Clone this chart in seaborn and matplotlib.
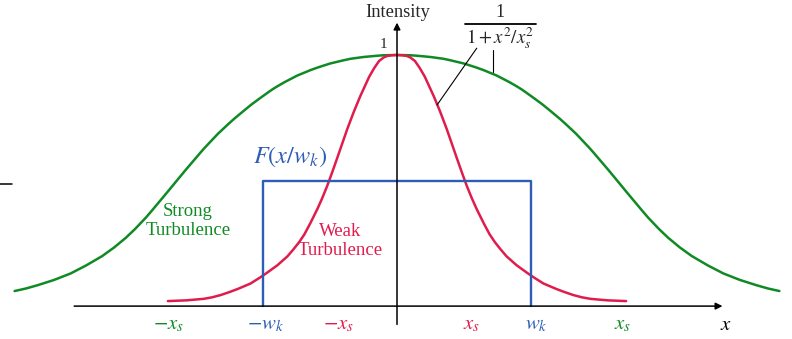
import matplotlib
matplotlib.use("Agg")
import matplotlib.pyplot as plt
import seaborn as sns
import pandas as pd

# values: both curves are symmetric, so one half is listed
# (offset from the centre in units of w_k, intensity with peak = 1)
strong_off = [0.0, 0.098, 0.150, 0.250, 0.346, 0.398, 0.500, 0.593, 0.645, 0.745,
              0.842, 0.894, 0.933, 0.965, 1.025, 1.086, 1.141, 1.213, 1.255, 1.337,
              1.429, 1.461, 1.581, 1.717, 1.833, 1.875, 1.957, 2.024, 2.110, 2.201,
              2.320, 2.436, 2.560, 2.684, 2.770, 2.854]
strong_val = [1.000, 0.999, 0.997, 0.992, 0.985, 0.979, 0.966, 0.950, 0.940, 0.918,
              0.891, 0.875, 0.862, 0.850, 0.827, 0.803, 0.779, 0.747, 0.727, 0.686,
              0.634, 0.615, 0.540, 0.452, 0.378, 0.352, 0.306, 0.272, 0.234, 0.199,
              0.162, 0.130, 0.104, 0.083, 0.070, 0.060]

weak_off = [0.0, 0.037, 0.074, 0.100, 0.134, 0.170, 0.208, 0.275, 0.323, 0.372,
            0.409, 0.446, 0.483, 0.520, 0.558, 0.595, 0.647, 0.691, 0.730, 0.773,
            0.818, 0.892, 0.967, 1.019, 1.093, 1.190, 1.250, 1.316, 1.380, 1.442,
            1.570, 1.710]
weak_val = [1.000, 0.999, 0.996, 0.990, 0.976, 0.948, 0.913, 0.835, 0.773, 0.704,
            0.647, 0.590, 0.534, 0.480, 0.430, 0.386, 0.330, 0.286, 0.255, 0.226,
            0.198, 0.163, 0.134, 0.115, 0.090, 0.068, 0.056, 0.044, 0.035, 0.029,
            0.023, 0.020]

box_x = [-1.0, -1.0, 1.0, 1.0]
box_y = [0.0, 0.5, 0.5, 0.0]

tick_labels = [r"$-x_s$", r"$-w_k$", r"$-x_s$", r"$x_s$", r"$w_k$", r"$x_s$", r"$x$"]
tick_pos = [-1.705, -0.98, -0.44, 0.557, 1.037, 1.683, 2.455]

GREEN = "#108a24"
RED = "#e01c4c"
BLUE = "#2f5db5"
tick_colors = [GREEN, BLUE, RED, RED, BLUE, GREEN, "black"]


def mirrored(off, val):
    xs = [-o for o in reversed(off[1:])] + list(off)
    ys = list(reversed(val[1:])) + list(val)
    return pd.DataFrame({'x': xs, 'y': ys})


sns.set_style("white")
plt.rcParams['font.family'] = ['Liberation Serif', 'DejaVu Serif']
plt.rcParams['mathtext.fontset'] = 'stix'

fig = plt.figure(figsize=(7.92, 3.39), dpi=100)
ax = fig.add_axes([0, 0, 1, 1])

strong = mirrored(strong_off, strong_val)
weak = mirrored(weak_off, weak_val)
box = pd.DataFrame({'x': box_x, 'y': box_y})

sns.lineplot(data=strong, x='x', y='y', sort=False, estimator=None, color=GREEN, lw=1.8, ax=ax)
sns.lineplot(data=weak, x='x', y='y', sort=False, estimator=None, color=RED, lw=1.8, ax=ax)
sns.lineplot(data=box, x='x', y='y', sort=False, estimator=None, color=BLUE, lw=1.7, ax=ax)

# axes drawn as arrows
ax.annotate('', xy=(2.45, 0), xytext=(-2.43, 0),
            arrowprops=dict(arrowstyle='-|>', color='black', lw=1.1, mutation_scale=10))
ax.annotate('', xy=(0, 1.14), xytext=(0, -0.084),
            arrowprops=dict(arrowstyle='-|>', color='black', lw=1.1, mutation_scale=10))
ax.plot([-2.963, -2.873], [0.486, 0.486], color='black', lw=1.1)

ax.text(0.007, 1.171, "Intensity", ha='center', va='center', fontsize=13.3)
ax.text(-0.10, 1.040, "1", ha='center', va='center', fontsize=11)

# formula label
ax.text(0.769, 1.171, "1", ha='center', va='center', fontsize=13)
ax.plot([0.507, 1.037], [1.122, 1.122], color='black', lw=1.3)
ax.text(0.769, 1.068, r"$1+x^2/x_s^2$", ha='center', va='center', fontsize=13.6)
ax.plot([0.595, 0.299], [1.027, 0.801], color='black', lw=0.8)
ax.plot([0.719, 0.719], [1.020, 0.933], color='black', lw=0.8)

ax.text(-0.80, 0.594, r"$F(x/w_k)$", ha='center', va='center', fontsize=17.5, color=BLUE)
ax.text(-1.56, 0.339, "Strong\nTurbulence", ha='center', va='center', fontsize=13.5,
        color=GREEN, linespacing=1.15)
ax.text(-0.425, 0.259, "Weak\nTurbulence", ha='center', va='center', fontsize=13.5,
        color=RED, linespacing=1.15)

for lab, pos, col in zip(tick_labels, tick_pos, tick_colors):
    ax.text(pos, -0.076, lab, ha='center', va='center', fontsize=15, color=col)

ax.set_xlim(-2.963, 2.948)
ax.set_ylim(-0.131, 1.219)
ax.axis('off')

plt.savefig("out.png", dpi=100)
plt.close()
